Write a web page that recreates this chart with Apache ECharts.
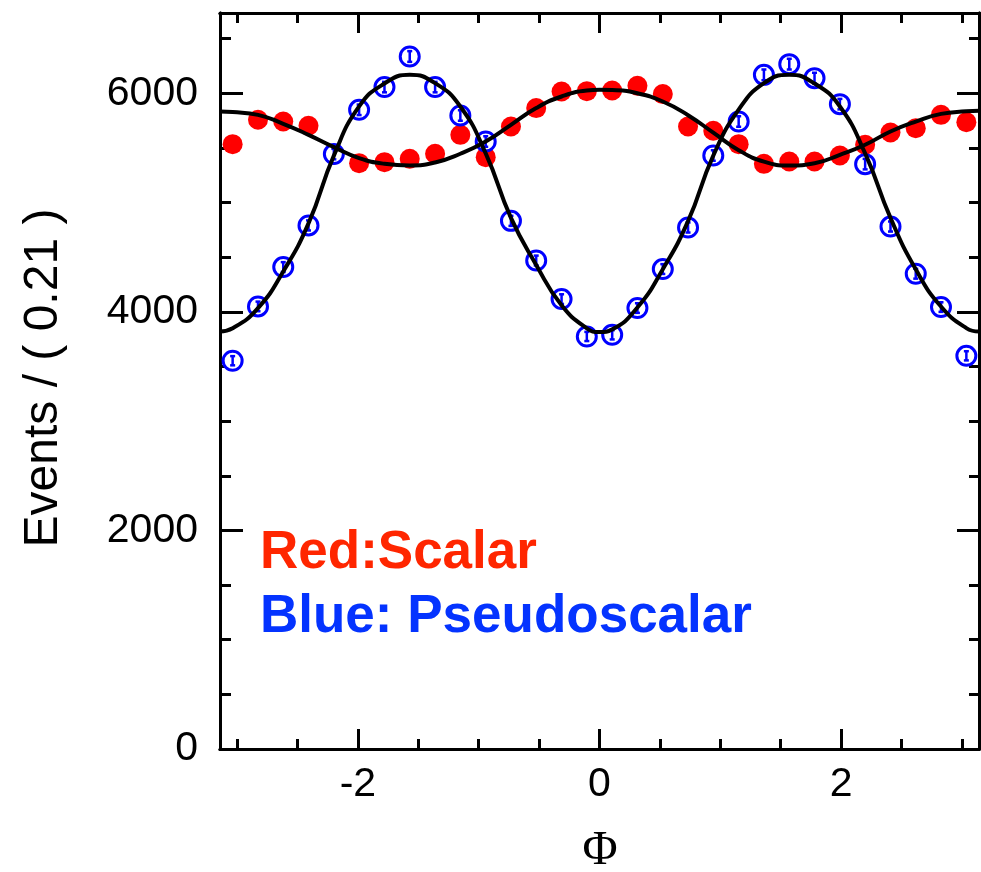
<!DOCTYPE html>
<html>
<head>
<meta charset="utf-8">
<script src="https://cdn.jsdelivr.net/npm/echarts@6/dist/echarts.min.js"></script>
<style>
  html, body { margin: 0; padding: 0; background: #fff; }
  #chart { width: 981px; height: 872px; }
</style>
</head>
<body>
<div id="chart"></div>
<script>
// Bin centres in Phi (30 bins of width 0.21 over [-pi, pi])
const phiBins = [-3.037, -2.827, -2.618, -2.409, -2.199, -1.990, -1.780, -1.571, -1.361, -1.152,
                 -0.942, -0.733, -0.524, -0.314, -0.105, 0.105, 0.314, 0.524, 0.733, 0.942,
                 1.152, 1.361, 1.571, 1.780, 1.990, 2.199, 2.409, 2.618, 2.827, 3.037];

// Scalar sample (filled red points)
const scalarCounts = [5535, 5758, 5742, 5703, 5440, 5361, 5370, 5401, 5447, 5620,
                      5416, 5696, 5865, 6017, 6020, 6026, 6069, 5993, 5696, 5657,
                      5535, 5355, 5376, 5376, 5431, 5529, 5641, 5681, 5803, 5736];

// Pseudoscalar sample (open blue points) and their errors
const pseudoCounts = [3553, 4050, 4410, 4791, 5444, 5849, 6057, 6337, 6057, 5797,
                      5559, 4833, 4470, 4117, 3775, 3790, 4035, 4392, 4772, 5431,
                      5742, 6169, 6267, 6139, 5901, 5352, 4781, 4349, 4044, 3598];
const pseudoErrors = [42, 44, 45, 46, 48, 48, 48, 49, 48, 48,
                      48, 46, 45, 44, 42, 42, 44, 45, 46, 48,
                      48, 49, 49, 49, 48, 48, 46, 45, 44, 42];

// Fitted curves, sampled along Phi
const fitPhi = [-3.1416, -3.037, -2.827, -2.618, -2.409, -2.199, -1.990, -1.780, -1.571, -1.361,
                -1.152, -0.942, -0.733, -0.524, -0.314, -0.105, 0, 0.105, 0.314, 0.524,
                0.733, 0.942, 1.152, 1.361, 1.571, 1.780, 1.990, 2.199, 2.409, 2.618,
                2.827, 3.037, 3.1416];
const scalarFit = [5833, 5828, 5803, 5721, 5620, 5508, 5407, 5355, 5340, 5367,
                   5447, 5559, 5712, 5865, 5971, 6026, 6032, 6030, 6000, 5925,
                   5800, 5640, 5480, 5375, 5340, 5360, 5437, 5529, 5651, 5742,
                   5812, 5835, 5840];
const pseudoFit = [3821, 3850, 4035, 4370, 4810, 5430, 5880, 6090, 6169, 6093,
                   5879, 5450, 4860, 4430, 4060, 3850, 3815, 3840, 4040, 4390,
                   4830, 5430, 5850, 6093, 6169, 6090, 5879, 5450, 4860, 4390,
                   4049, 3852, 3820];

// Axis ticks
const xMajorTicks = [-2, 0, 2];
const xMinorTicks = [-3, -2.5, -1.5, -1, -0.5, 0.5, 1, 1.5, 2.5, 3];
const yMajorTicks = [0, 2000, 4000, 6000];
const yMinorTicks = [500, 1000, 1500, 2500, 3000, 3500, 4500, 5000, 5500, 6500];
const X_MIN = -Math.PI, X_MAX = Math.PI;
const Y_MIN = 0, Y_MAX = 6735;

const FONT = '"Liberation Sans", Arial, Helvetica, sans-serif';

function xAxisDef(position, ticks, len, withLabels) {
  return {
    type: 'value', gridIndex: 0, position: position, min: X_MIN, max: X_MAX,
    axisLine: { show: true, onZero: false, lineStyle: { color: '#000', width: 3 } },
    axisTick: { show: true, inside: true, length: len, customValues: ticks,
                lineStyle: { color: '#000', width: 3 } },
    axisLabel: withLabels
      ? { show: true, customValues: xMajorTicks, fontSize: 41, fontFamily: FONT,
          color: '#000', margin: 15, formatter: v => String(v) }
      : { show: false },
    splitLine: { show: false }, minorTick: { show: false }
  };
}
function yAxisDef(position, ticks, len, withLabels) {
  return {
    type: 'value', gridIndex: 0, position: position, min: Y_MIN, max: Y_MAX,
    axisLine: { show: true, onZero: false, lineStyle: { color: '#000', width: 3 } },
    axisTick: { show: true, inside: true, length: len, customValues: ticks,
                lineStyle: { color: '#000', width: 3 } },
    axisLabel: withLabels
      ? { show: true, customValues: yMajorTicks, fontSize: 41, fontFamily: FONT,
          color: '#000', margin: 22, formatter: v => String(v) }
      : { show: false },
    splitLine: { show: false }, minorTick: { show: false }
  };
}

const chart = echarts.init(document.getElementById('chart'), null, { renderer: 'canvas' });

const option = {
  animation: false,
  backgroundColor: '#fff',
  grid: { left: 220, right: 2, top: 13, bottom: 123, containLabel: false },
  xAxis: [
    xAxisDef('bottom', xMajorTicks, 20, true),
    xAxisDef('bottom', xMinorTicks, 10, false),
    xAxisDef('top', xMajorTicks, 20, false),
    xAxisDef('top', xMinorTicks, 10, false)
  ],
  yAxis: [
    yAxisDef('left', yMajorTicks, 23, true),
    yAxisDef('left', yMinorTicks, 11, false),
    yAxisDef('right', yMajorTicks, 22, false),
    yAxisDef('right', yMinorTicks, 10, false)
  ],
  series: [
    {
      name: 'Scalar', type: 'scatter', xAxisIndex: 0, yAxisIndex: 0, z: 2,
      symbol: 'circle', symbolSize: 20,
      itemStyle: { color: '#ff0000', opacity: 1 },
      data: phiBins.map((p, i) => [p, scalarCounts[i]])
    },
    {
      name: 'Pseudoscalar', type: 'scatter', xAxisIndex: 0, yAxisIndex: 0, z: 3,
      symbol: 'circle', symbolSize: 19,
      itemStyle: { color: '#ffffff', borderColor: '#0000ff', borderWidth: 3, opacity: 1 },
      data: phiBins.map((p, i) => [p, pseudoCounts[i]])
    },
    {
      name: 'Pseudoscalar errors', type: 'custom', xAxisIndex: 0, yAxisIndex: 0, z: 4,
      renderItem: function (params, api) {
        const x = api.value(0), y = api.value(1), e = api.value(2);
        const top = api.coord([x, y + e]);
        const bot = api.coord([x, y - e]);
        const cw = 2.5;
        const st = { stroke: '#0000ff', lineWidth: 2.5 };
        return {
          type: 'group',
          children: [
            { type: 'line', shape: { x1: top[0], y1: top[1], x2: bot[0], y2: bot[1] }, style: st },
            { type: 'line', shape: { x1: top[0] - cw, y1: top[1], x2: top[0] + cw, y2: top[1] }, style: st },
            { type: 'line', shape: { x1: bot[0] - cw, y1: bot[1], x2: bot[0] + cw, y2: bot[1] }, style: st }
          ]
        };
      },
      data: phiBins.map((p, i) => [p, pseudoCounts[i], pseudoErrors[i]])
    },
    {
      name: 'Scalar fit', type: 'line', xAxisIndex: 0, yAxisIndex: 0, z: 5,
      smooth: 0.5, showSymbol: false, symbol: 'none',
      lineStyle: { color: '#000', width: 4 },
      data: fitPhi.map((p, i) => [p, scalarFit[i]])
    },
    {
      name: 'Pseudoscalar fit', type: 'line', xAxisIndex: 0, yAxisIndex: 0, z: 5,
      smooth: 0.5, showSymbol: false, symbol: 'none',
      lineStyle: { color: '#000', width: 4 },
      data: fitPhi.map((p, i) => [p, pseudoFit[i]])
    }
  ],
  graphic: [
    {
      type: 'text', x: 44, y: 378, rotation: Math.PI / 2,
      style: { text: 'Events / ( 0.21 )', fontSize: 48, fontFamily: FONT, fill: '#000',
               textAlign: 'center', textVerticalAlign: 'middle', align: 'center', verticalAlign: 'middle' }
    },
    {
      type: 'text', x: 600, y: 851,
      style: { text: 'Φ', fontSize: 48, fontFamily: '"Liberation Serif", "Times New Roman", serif', fill: '#000',
               textAlign: 'center', textVerticalAlign: 'middle', align: 'center', verticalAlign: 'middle' }
    },
    {
      type: 'text', x: 260, y: 553,
      style: { text: 'Red:Scalar', fontSize: 53, fontWeight: 'bold', fontFamily: FONT, fill: '#ff2600',
               textAlign: 'left', textVerticalAlign: 'middle', align: 'left', verticalAlign: 'middle' }
    },
    {
      type: 'text', x: 260, y: 617,
      style: { text: 'Blue: Pseudoscalar', fontSize: 53, fontWeight: 'bold', fontFamily: FONT, fill: '#0433ff',
               textAlign: 'left', textVerticalAlign: 'middle', align: 'left', verticalAlign: 'middle' }
    }
  ]
};

chart.setOption(option);
</script>
</body>
</html>
